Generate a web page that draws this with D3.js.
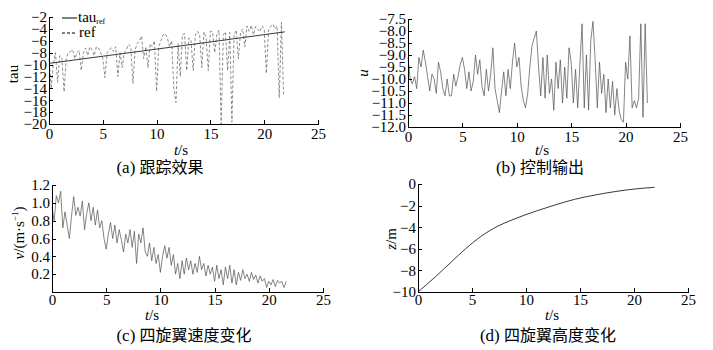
<!DOCTYPE html>
<html>
<head>
<meta charset="utf-8">
<script src="https://cdn.jsdelivr.net/npm/d3@7"></script>
<style>
  body { margin: 0; background: #fff; }
  .axis path, .axis line { stroke: #000; stroke-width: 1; shape-rendering: crispEdges; }
</style>
</head>
<body>
<script>
// 时间轴: 0 ~ 25 s
var xTicks = [0, 5, 10, 15, 20, 25];

// (a) 跟踪效果
var tauTicks = [-20, -18, -16, -14, -12, -10, -8, -6, -4, -2];
var tauRefT = [0, 5, 10, 15, 21.9];
var tauRefV = [-9.8, -8.6, -7.4, -6.2, -4.5];
var refDt = 0.2;
var refV = [
  -9, -14, -10, -8, -13, -8.5, -9, -14.6, -9, -8,
  -7.8, -7.5, -9, -8, -7.6, -11, -8, -7.2, -8.5, -7,
  -7.5, -8.5, -7, -7.2, -8, -9, -12.2, -8, -7.5, -7.2,
  -7.8, -7, -12, -8, -10.5, -8, -7.5, -6.6, -7, -13.2,
  -7.5, -6.5, -6, -5.2, -9, -7, -10.5, -6.5, -7, -6,
  -14.5, -7, -6, -5, -4.8, -5.5, -7, -6, -14, -16.4,
  -6.5, -12, -5, -4.8, -11, -5.5, -6, -11, -5, -4.4,
  -5, -10.5, -4.5, -5.5, -11, -4.4, -4.5, -8, -5, -4.2,
  -20, -5, -4.5, -11, -4.6, -19.7, -5, -4.2, -9, -4.6,
  -4, -7, -3.5, -4.4, -3.4, -5, -3.6, -4, -4.5, -3.5,
  -4, -11.5, -4.2, -3.6, -3.2, -4, -3.5, -15.6, -2.9, -15
];

// (b) 控制输出
var uTicks = [-12.0, -11.5, -11.0, -10.5, -10.0, -9.5, -9.0, -8.5, -8.0, -7.5];
var uDt = 0.2;
var uV = [
  -9.1, -10.0, -10.2, -9.9, -10.4, -9.1, -9.5, -8.8, -9.3, -9.9,
  -10.5, -9.8, -10.0, -10.6, -9.3, -9.7, -10.4, -10.7, -10.0, -10.7,
  -10.7, -9.8, -10.3, -9.9, -9.4, -9.1, -9.6, -10.4, -9.7, -10.5,
  -10.1, -9.0, -9.8, -9.2, -10.3, -10.7, -9.6, -10.5, -9.8, -8.7,
  -10.4, -10.9, -11.4, -10.5, -9.7, -10.7, -9.6, -10.4, -9.3, -8.5,
  -9.5, -9.1, -10.3, -10.9, -11.2, -10.6, -9.5, -8.6, -8.3, -8.0,
  -9.5, -10.7, -9.1, -10.8, -9.0, -10.6, -10.0, -11.3, -9.3, -10.4,
  -9.2, -11.0, -9.5, -10.8, -8.7, -9.3, -11.0, -9.6, -11.2, -9.4,
  -7.7, -11.2, -9.0, -11.3, -8.4, -7.6, -9.2, -11.2, -9.3, -10.6,
  -9.8, -11.4, -10.0, -11.2, -10.1, -11.5, -10.4, -11.3, -11.7, -11.8,
  -9.3, -10.0, -8.2, -11.2, -10.9, -11.2, -10.8, -7.7, -11.6, -7.7,
  -11.0
];

// (c) 四旋翼速度变化
var vTicks = [0.2, 0.4, 0.6, 0.8, 1.0, 1.2];
var vDt = 0.2;
var vV = [
  0.95, 0.80, 1.08, 1.00, 1.13, 0.72, 0.90, 0.75, 0.60, 0.85,
  1.07, 0.86, 0.95, 0.85, 1.02, 0.70, 0.88, 1.00, 0.80, 0.95,
  0.75, 0.92, 0.72, 0.80, 0.60, 0.48, 0.65, 0.78, 0.60, 0.75,
  0.55, 0.70, 0.58, 0.45, 0.65, 0.55, 0.70, 0.50, 0.68, 0.32,
  0.65, 0.55, 0.72, 0.45, 0.40, 0.55, 0.35, 0.50, 0.32, 0.42,
  0.22, 0.40, 0.52, 0.38, 0.50, 0.30, 0.42, 0.20, 0.32, 0.15,
  0.35, 0.20, 0.38, 0.25, 0.35, 0.20, 0.32, 0.22, 0.40, 0.25,
  0.32, 0.18, 0.30, 0.20, 0.28, 0.12, 0.30, 0.15, 0.25, 0.08,
  0.28, 0.15, 0.30, 0.10, 0.25, 0.08, 0.22, 0.13, 0.25, 0.15,
  0.20, 0.12, 0.22, 0.14, 0.19, 0.10, 0.18, 0.12, 0.15, 0.05,
  0.12, 0.08, 0.14, 0.06, 0.13, 0.10, 0.12, 0.05, 0.12
];

// (d) 四旋翼高度变化
var zTicks = [-10, -8, -6, -4, -2, 0];
var zT = [0, 1.6, 3.1, 4.4, 5.9, 7.4, 8.7, 9.9, 11.1, 12.7, 14.5, 16.4, 18.2, 20.1, 21.9];
var zV = [-10, -8.6, -7.2, -6.0, -4.8, -3.9, -3.33, -2.87, -2.45, -1.94, -1.42, -1.02, -0.71, -0.46, -0.31];

var SERIF = "'Liberation Serif', 'DejaVu Serif', serif";
var CJK = "'Noto Sans CJK SC', sans-serif";

var toPts = function(vals, dt){
  return vals.map(function(v, i){ return [i * dt, v]; });
};
var zip = function(ts, vs){
  return ts.map(function(t, i){ return [t, vs[i]]; });
};

var svg = d3.select("body").append("svg")
  .attr("width", 713).attr("height", 350)
  .style("font-family", SERIF);

// 文本: 直接写 inline style
function txt(g, x, y, size){
  return g.append("text")
    .attr("x", x).attr("y", y)
    .style("font-family", SERIF)
    .style("font-size", size + "px")
    .attr("fill", "#000");
}

function panel(opt){
  var x = d3.scaleLinear().domain([0, 25]).range(opt.xr);
  var y = d3.scaleLinear().domain(opt.yd).range(opt.yr);
  var g = svg.append("g");

  opt.series.forEach(function(s){
    var line = d3.line()
      .x(function(d){ return x(d[0]); })
      .y(function(d){ return y(d[1]); })
      .curve(s.curve || d3.curveLinear);
    g.append("path")
      .datum(s.data)
      .attr("fill", "none")
      .attr("stroke", s.color)
      .attr("stroke-width", s.w)
      .attr("stroke-dasharray", s.dash || null)
      .attr("stroke-linejoin", "round")
      .attr("d", line);
  });

  var ax = g.append("g").attr("class", "axis")
    .attr("transform", "translate(0," + opt.yr[0] + ")")
    .call(d3.axisBottom(x).tickValues(xTicks).tickSizeInner(-4).tickSizeOuter(0).tickPadding(opt.xpad));

  var ay = g.append("g").attr("class", "axis")
    .attr("transform", "translate(" + opt.xr[0] + ",0)")
    .call(d3.axisLeft(y).tickValues(opt.yt).tickFormat(opt.fmt).tickSizeInner(-4).tickSizeOuter(0).tickPadding(2));

  [ax, ay].forEach(function(a){
    a.attr("font-family", null).attr("font-size", null);
    a.selectAll("text")
      .style("font-family", SERIF)
      .style("font-size", "15px")
      .attr("fill", "#000");
  });

  // t/s
  var tl = txt(g, opt.tx, opt.ty, 15).attr("text-anchor", "middle");
  tl.append("tspan").style("font-style", "italic").text("t");
  tl.append("tspan").text("/s");

  // 标题
  var tt = txt(g, opt.cx, opt.cy, 17).attr("text-anchor", "middle");
  tt.append("tspan").text(opt.tag + " ");
  tt.append("tspan").style("font-family", CJK).style("font-size", "16px").text(opt.title);

  return g;
}

var fmtInt = d3.format("d");
var fmt1 = d3.format(".1f");

var ga = panel({
  xr: [49, 318], yd: [-20, -2], yr: [124, 17], yt: tauTicks, fmt: fmtInt, xpad: 4,
  tx: 181, ty: 155, cx: 160, cy: 173, tag: "(a)", title: "跟踪效果",
  series: [
    {data: toPts(refV, refDt), color: "#707070", w: 0.8, dash: "3,2"},
    {data: zip(tauRefT, tauRefV), color: "#222", w: 0.9}
  ]
});
txt(ga, 0, 0, 15).attr("transform", "translate(18,74) rotate(-90)")
  .attr("text-anchor", "middle").text("tau");
// 图例
ga.append("line").attr("x1", 62).attr("x2", 77).attr("y1", 18).attr("y2", 18)
  .attr("stroke", "#000").attr("stroke-width", 1);
var lt = txt(ga, 78, 22, 15);
lt.append("tspan").text("tau");
lt.append("tspan").style("font-size", "8px").attr("dy", 2).text("ref");
ga.append("line").attr("x1", 62).attr("x2", 77).attr("y1", 33).attr("y2", 33)
  .attr("stroke", "#000").attr("stroke-width", 1).attr("stroke-dasharray", "3,2");
txt(ga, 79, 37, 15).text("ref");

var gb = panel({
  xr: [408, 680], yd: [-12, -7.5], yr: [127, 19], yt: uTicks, fmt: fmt1, xpad: 4,
  tx: 542, ty: 155, cx: 540, cy: 173, tag: "(b)", title: "控制输出",
  series: [{data: toPts(uV, uDt), color: "#505050", w: 0.7}]
});
txt(gb, 0, 0, 15).style("font-style", "italic")
  .attr("transform", "translate(368,73) rotate(-90)").attr("text-anchor", "middle").text("u");

var gc = panel({
  xr: [52, 323], yd: [0, 1.2], yr: [292, 185], yt: vTicks, fmt: fmt1, xpad: 2,
  tx: 152, ty: 320, cx: 184, cy: 341, tag: "(c)", title: "四旋翼速度变化",
  series: [{data: toPts(vV, vDt), color: "#505050", w: 0.7}]
});
var vl = txt(gc, 0, 0, 15).attr("transform", "translate(24,233) rotate(-90)")
  .attr("text-anchor", "middle");
vl.append("tspan").style("font-style", "italic").text("v");
vl.append("tspan").text("/(m·s");
vl.append("tspan").style("font-size", "9px").attr("dy", -6).text("−1");
vl.append("tspan").attr("dy", 6).text(")");

var gd = panel({
  xr: [418, 688], yd: [-10, 0], yr: [292, 184], yt: zTicks, fmt: fmtInt, xpad: 2,
  tx: 552, ty: 320, cx: 548, cy: 341, tag: "(d)", title: "四旋翼高度变化",
  series: [{data: zip(zT, zV), color: "#222", w: 0.9, curve: d3.curveMonotoneX}]
});
var zl = txt(gd, 0, 0, 15).attr("transform", "translate(396,239) rotate(-90)")
  .attr("text-anchor", "middle");
zl.append("tspan").style("font-style", "italic").text("z");
zl.append("tspan").text("/m");
</script>
</body>
</html>
